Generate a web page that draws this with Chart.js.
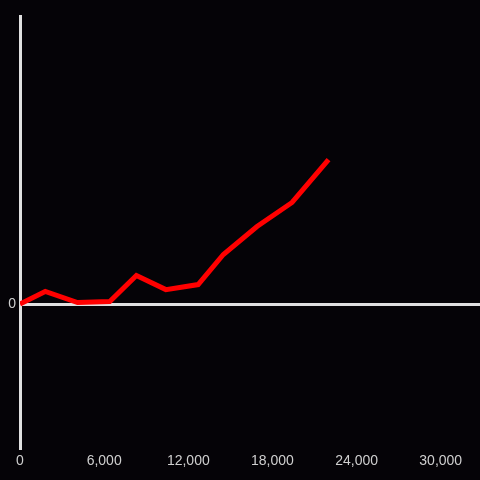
<!DOCTYPE html>
<html lang="en">
<head>
  <meta charset="UTF-8">
  <title>Line</title>
  <script src="https://cdn.jsdelivr.net/npm/chart.js"></script>
  <style>
    html, body { margin: 0; padding: 0; background: #050307; }
    canvas { display: block; }
  </style>
</head>
<body>
<canvas id="chart" width="480" height="480"></canvas>
<script>
const xValues = [0, 1800, 4100, 6400, 8300, 10400, 12700, 14500, 16900, 19400, 22000];
const yValues = [0, 8.7, 1, 1.7, 19.8, 10, 13.5, 34.4, 53.8, 70.5, 100.3];
const xTicks = [0, 6000, 12000, 18000, 24000, 30000];
const yTicks = [0];

const axisColor = '#e0e0e0';
const labelColor = '#cfcfcf';

const bgPlugin = {
  id: 'bg',
  beforeDraw(chart) {
    const c = chart.ctx;
    c.save();
    c.fillStyle = '#050307';
    c.fillRect(0, 0, chart.width, chart.height);
    c.restore();
  }
};

new Chart(document.getElementById('chart'), {
  type: 'line',
  data: {
    datasets: [{
      data: xValues.map((x, i) => ({ x: x, y: yValues[i] })),
      borderColor: '#ff0000',
      borderWidth: 5,
      pointRadius: 0,
      tension: 0,
      fill: false
    }]
  },
  options: {
    responsive: false,
    animation: false,
    layout: { padding: { top: 16, right: 0, left: 0, bottom: 0 } },
    plugins: { legend: { display: false }, tooltip: { enabled: false } },
    scales: {
      x: {
        type: 'linear',
        min: 0,
        max: 32800,
        afterBuildTicks: s => { s.ticks = xTicks.map(v => ({ value: v })); },
        afterFit: s => { s.height = 32; },
        grid: { display: false, drawTicks: false },
        border: { display: false },
        ticks: {
          color: labelColor,
          padding: 5,
          maxRotation: 0,
          font: { family: 'Liberation Sans', size: 14 },
          callback: v => v.toLocaleString('en-US')
        }
      },
      y: {
        type: 'linear',
        min: -100,
        max: 200,
        afterBuildTicks: s => { s.ticks = yTicks.map(v => ({ value: v })); },
        afterFit: s => { s.width = 20; },
        grid: {
          drawTicks: false,
          lineWidth: 3,
          color: ctx => ctx.tick && ctx.tick.value === 0 ? axisColor : 'transparent'
        },
        border: { display: true, color: axisColor, width: 3 },
        ticks: {
          color: labelColor,
          padding: 4,
          font: { family: 'Liberation Sans', size: 14 }
        }
      }
    }
  },
  plugins: [bgPlugin]
});
</script>
</body>
</html>
